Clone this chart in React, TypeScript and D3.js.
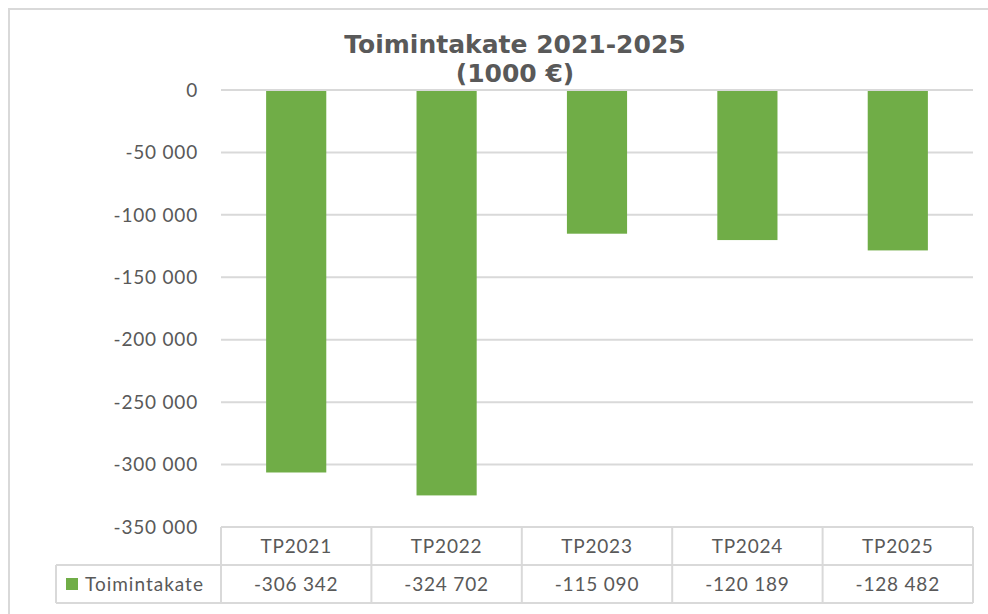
import React from "react";
import * as d3 from "d3";

const categories = ["TP2021", "TP2022", "TP2023", "TP2024", "TP2025"];
const values = [-306342, -324702, -115090, -120189, -128482];
const yTicks = [0, -50000, -100000, -150000, -200000, -250000, -300000, -350000];
const seriesName = "Toimintakate";
const titleLines = ["Toimintakate 2021-2025", "(1000 €)"];

const W = 988;
const H = 614;
const left = 221;
const right = 973;
const top = 90;
const bottom = 527;
const rowH = 38;
const FONT = "Lato, 'Open Sans', sans-serif";
const TITLE_FONT = "'DejaVu Sans', Verdana, sans-serif";
const TXT = "#595959";
const GRID = "#d9d9d9";
const BAR = "#70ad47";

const fmt = (v: number) => {
  const s = Math.abs(v).toString().replace(/\B(?=(\d{3})+(?!\d))/g, " ");
  return (v < 0 ? "-" : "") + s;
};

export default function App() {
  const x = d3.scaleBand<string>().domain(categories).range([left, right]).paddingInner(0.6).paddingOuter(0.3);
  const band = d3.scaleBand<string>().domain(categories).range([left, right]);
  const y = d3.scaleLinear().domain([-350000, 0]).range([bottom, top]);

  return (
    <svg width={W} height={H} style={{ position: "absolute", left: 0, top: 0, display: "block" }}>
      <rect x={0} y={0} width={W} height={H} fill="#fff" />
      <rect x={9} y={9} width={W + 10} height={H + 10} fill="none" stroke={GRID} strokeWidth={2} />
      {titleLines.map((t, i) => (
        <text key={i} x={515} y={53 + i * 29} textAnchor="middle" fontFamily={TITLE_FONT} fontWeight="bold" fontSize={25} fill={TXT}>
          {t}
        </text>
      ))}
      {yTicks.map((t) => (
        <g key={t}>
          <line x1={left} x2={right} y1={y(t)} y2={y(t)} stroke={GRID} strokeWidth={2} />
          <text x={198} y={y(t)} dy="0.35em" textAnchor="end" fontFamily={FONT} fontSize={19} fill={TXT} letterSpacing={0.8}>
            {fmt(t)}
          </text>
        </g>
      ))}
      {categories.map((c, i) => (
        <rect key={c} x={x(c)} y={y(0) + 1} width={x.bandwidth()} height={y(values[i]) - y(0) - 1} fill={BAR} />
      ))}
      {/* data table */}
      <g stroke={GRID} strokeWidth={2} fill="none">
        <line x1={left} x2={right} y1={bottom} y2={bottom} />
        <line x1={56} x2={right} y1={bottom + rowH} y2={bottom + rowH} />
        <line x1={56} x2={right} y1={bottom + 2 * rowH} y2={bottom + 2 * rowH} />
        <line x1={56} x2={56} y1={bottom + rowH} y2={bottom + 2 * rowH} />
        {categories.map((c) => (
          <line key={c} x1={band(c)} x2={band(c)} y1={bottom} y2={bottom + 2 * rowH} />
        ))}
        <line x1={right} x2={right} y1={bottom} y2={bottom + 2 * rowH} />
      </g>
      {categories.map((c, i) => (
        <g key={c}>
          <text x={band(c)! + band.bandwidth() / 2} y={bottom + rowH / 2} dy="0.35em" textAnchor="middle" fontFamily={FONT} fontSize={19} fill={TXT} letterSpacing={0.8}>
            {c}
          </text>
          <text x={band(c)! + band.bandwidth() / 2} y={bottom + rowH * 1.5} dy="0.35em" textAnchor="middle" fontFamily={FONT} fontSize={19} fill={TXT} letterSpacing={0.8}>
            {fmt(values[i])}
          </text>
        </g>
      ))}
      <rect x={66} y={578} width={12} height={12} fill={BAR} />
      <text x={85} y={bottom + rowH * 1.5} dy="0.35em" fontFamily={FONT} fontSize={19} fill={TXT} letterSpacing={1}>
        {seriesName}
      </text>
    </svg>
  );
}
